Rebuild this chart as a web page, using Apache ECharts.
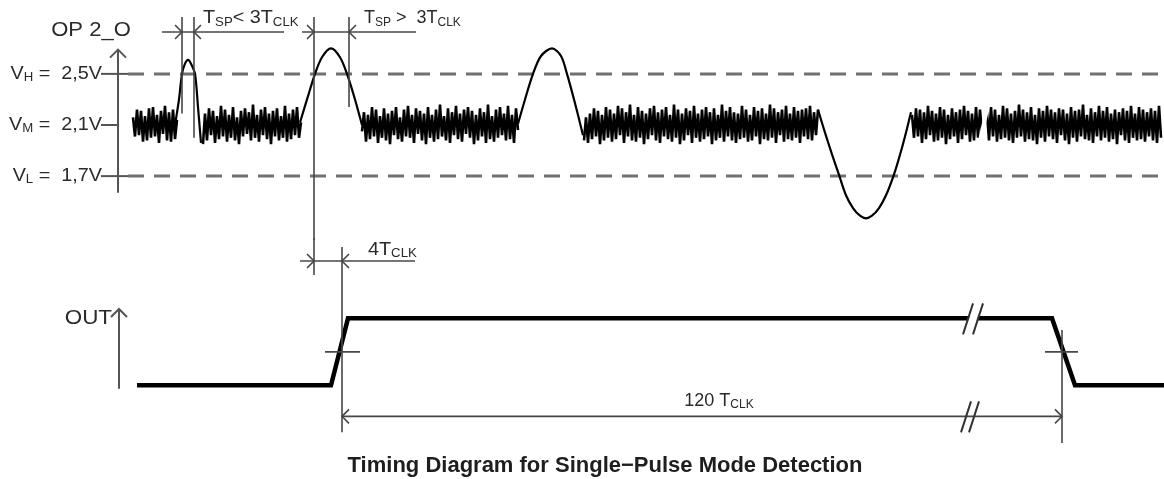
<!DOCTYPE html>
<html>
<head>
<meta charset="utf-8">
<script src="https://cdn.jsdelivr.net/npm/echarts@6/dist/echarts.min.js"></script>
<style>
  html, body { margin: 0; padding: 0; background: #fff; }
  #chart { width: 1164px; height: 479px; }
</style>
</head>
<body>
<div id="chart"></div>
<script>
// OP 2_O levels (V)
const levelNames = ['H', 'M', 'L']
const levelValues = [2.5, 2.1, 1.7]
const levelLabels = ['2,5V', '2,1V', '1,7V']
const vMid = 2.1

// noise around V_M, in 0.01 V, one sample every 2 time units
const noiseStep = 2
const noiseStarts = [133, 203, 362, 584, 912, 987]
const noise1 = [6,-9,12,-8,11,-13,7,-12,13,-10,14,-9,8,-14,11,-7,15,-12,10,-13,12,-11,4]
const noise2 = [-15,9,-12,13,-8,11,-14,7,-11,15,-9,12,-13,8,-10,14,-12,6,-15,11,-9,13,-7,10,-12,16,-10,8,-13,12,
  -8,14,-11,9,-15,11,-9,13,-12,7,-10,15,-13,9,-11,12,-8,14,-10,2]
const noise3 = [-5,10,-13,8,-11,14,-9,12,-14,7,-10,13,-12,9,-15,11,-8,14,-11,6,-13,12,-9,15,-10,8,-14,13,-7,11,
  -12,9,-15,14,-10,8,-13,12,-11,16,-9,7,-12,13,-14,10,-8,15,-11,9,-13,12,-7,14,-10,11,-15,8,-12,13,
  -9,10,-14,16,-11,7,-13,12,-10,14,-8,9,-12,15,-11,8,-14,13,-4]
const noise4 = [-12,6,-14,9,-11,13,-9,11,-15,8,-12,14,-10,12,-13,9,-11,15,-8,13,-14,10,-9,16,-12,8,-13,14,-10,11,
  -15,9,-11,13,-8,15,-12,10,-14,12,-9,14,-11,8,-13,16,-10,12,-15,9,-12,13,-8,11,-14,15,-10,9,-13,12,
  -11,14,-9,10,-15,13,-12,8,-10,16,-13,11,-9,14,-12,10,-14,9,-11,15,-10,12,-13,8,-12,14,-9,11,-15,13,
  -11,9,-12,16,-10,13,-14,10,-8,12,-13,15,-11,9,-12,14,-10,11,-14,12,-9,13,-11,15,-12,10,-8,12]
const noise5 = [8,-10,13,-9,12,-14,10,-11,15,-8,11,-13,9,-12,14,-10,12,-15,8,-11,13,-9,10,-14,12,-11,15,-8,11,-13,
  9,-12,14,-10,12,-7]
const noise6 = [10,-12,14,-9,12,-13,8,-11,15,-10,13,-12,9,-14,11,-10,16,-9,12,-13,10,-11,14,-12,8,-15,13,-10,11,-13,
  15,-9,12,-11,10,-14,13,-8,12,-12,9,-15,14,-10,11,-13,12,-9,16,-11,8,-12,13,-14,10,-9,15,-12,11,-10,
  14,-13,9,-11,12,-15,10,-8,13,-12,11,-14,15,-10,9,-12,14,-11,12,-13,10,-9,13,-12,11,-14,15,-10]

// pulses [time, V]
const pulse1 = [[175,2.1],[179,2.3],[182,2.5],[185,2.58],[188,2.61],[191,2.58],[195,2.5],[198,2.24],[201,1.96]]
const pulse2 = [[300,2.12],[307,2.3],[315,2.5],[322,2.63],[331,2.7],[340,2.63],[347,2.5],[355,2.3],[362,2.1]]
const pulse3 = [[518,2.11],[525,2.3],[533,2.5],[541,2.64],[552,2.7],[561,2.64],[567,2.5],[575,2.27],[583,2.02]]
const dip = [[818,2.22],[825,2.04],[832,1.87],[839,1.71],[846,1.55],[853,1.45],[860,1.39],[866,1.37],[872,1.39],
  [879,1.45],[886,1.55],[893,1.69],[899,1.84],[905,2.01],[911,2.2]]

// OUT
const outTimes = [137, 331, 348, 1052, 1075, 1164]
const outLevels = [0, 0, 1, 1, 0, 0]

// timing marks
const tspShort = [182, 194]
const tspLong = [314, 349]
const tDetect = 342
const tRelease = 1062

const FONT = 'Liberation Sans, Arial, sans-serif'
const INK = '#2a2a2a'
const DIM = '#474747'

const chart = echarts.init(document.getElementById('chart'))

const series = []
// V_H / V_L dashed
;[0, 2].forEach(i => {
  series.push({
    type: 'line', xAxisIndex: 0, yAxisIndex: 0, z: 1,
    data: [[128, levelValues[i]], [1164, levelValues[i]]],
    symbol: 'none',
    lineStyle: { color: '#707070', width: 3, type: [16, 10] }
  })
})
// noise
;[noise1, noise2, noise3, noise4, noise5, noise6].forEach((set, k) => {
  series.push({
    type: 'line', xAxisIndex: 0, yAxisIndex: 0,
    data: set.map((d, i) => [noiseStarts[k] + i * noiseStep, vMid + d / 100]),
    symbol: 'none',
    lineStyle: { color: '#000', width: 2.6 }
  })
})
// pulses
;[pulse1, pulse2, pulse3, dip].forEach(p => {
  series.push({
    type: 'line', xAxisIndex: 0, yAxisIndex: 0,
    data: p, symbol: 'none', smooth: 0.3,
    lineStyle: { color: '#000', width: 2.2 }
  })
})
// OUT
series.push({
  type: 'line', xAxisIndex: 1, yAxisIndex: 1,
  data: outTimes.map((t, i) => [t, outLevels[i]]),
  symbol: 'none',
  lineStyle: { color: '#000', width: 4.5, join: 'miter' }
})

chart.setOption({
  animation: false,
  backgroundColor: '#fff',
  title: {
    text: 'Timing Diagram for Single\u2212Pulse Mode Detection',
    left: 600, top: 450, textAlign: 'center',
    textStyle: { fontFamily: FONT, fontSize: 22, fontWeight: 'bold', color: '#1e1e1e' }
  },
  grid: [
    { left: 0, right: 0, top: 10, height: 230 },
    { left: 0, right: 0, top: 238, height: 221 }
  ],
  xAxis: [
    { type: 'value', gridIndex: 0, min: 0, max: 1164, show: false },
    { type: 'value', gridIndex: 1, min: 0, max: 1164, show: false }
  ],
  yAxis: [
    { type: 'value', gridIndex: 0, min: 1.2, max: 3.0, show: false },
    { type: 'value', gridIndex: 1, min: -1.1, max: 2.2, show: false }
  ],
  series
})

/* annotations, placed through the axes */
const p0 = (t, v) => chart.convertToPixel({ gridIndex: 0 }, [t, v])
const p1 = (t, v) => chart.convertToPixel({ gridIndex: 1 }, [t, v])
const g = []
const seg = (a, b, w = 1.6, c = DIM) => g.push({
  type: 'line', z: 100, silent: true,
  shape: { x1: a[0], y1: a[1], x2: b[0], y2: b[1] },
  style: { stroke: c, lineWidth: w }
})
const head = (pt, dir, s = 7) => g.push({
  type: 'polyline', z: 100, silent: true,
  shape: { points: [[pt[0] - dir * s, pt[1] - s], pt, [pt[0] - dir * s, pt[1] + s]] },
  style: { stroke: DIM, lineWidth: 1.6, fill: null }
})
const upHead = (pt, s = 8) => g.push({
  type: 'polyline', z: 100, silent: true,
  shape: { points: [[pt[0] - s, pt[1] + s], pt, [pt[0] + s, pt[1] + s]] },
  style: { stroke: '#555', lineWidth: 2, fill: null }
})
const rich = {
  m: { fontSize: 18, lineHeight: 20, fontFamily: FONT, fill: INK },
  s: { fontSize: 12, lineHeight: 8, verticalAlign: 'bottom', fontFamily: FONT, fill: INK }
}
const label = (pt, text, align, size = 18, sx = 1) => g.push({
  type: 'text', z: 100, silent: true, x: pt[0], y: pt[1], scaleX: sx,
  style: { text, align, verticalAlign: 'middle', fill: INK, fontFamily: FONT, fontSize: size, rich }
})
const breakMark = (c, gap, w) => {
  g.push({ type: 'line', z: 99, silent: true,
    shape: { x1: c[0] - 5, y1: c[1] + 16, x2: c[0] + 5, y2: c[1] - 15 },
    style: { stroke: '#fff', lineWidth: w } })
  seg([c[0] - gap - 5, c[1] + 16], [c[0] - gap + 5, c[1] - 15], 2, '#333')
  seg([c[0] + gap - 5, c[1] + 16], [c[0] + gap + 5, c[1] - 15], 2, '#333')
}

// OP 2_O axis
seg(p0(118, 2.69), p0(118, 1.57), 2, '#555')
upHead(p0(118, 2.69))
label(p0(91, 2.836), 'OP 2_O', 'center', 20, 1.1)
levelValues.forEach((v, i) => {
  label(p0(102, v), '{m|V}{s|' + levelNames[i] + '}{m| =  ' + levelLabels[i] + '}', 'right', 18, 1.1)
  seg(p0(101, v), p0(i === 1 ? 118 : 128, v), 2, '#555')
})

// T_SP < 3T_CLK
seg(p0(162, 2.828), p0(284, 2.828))
seg(p0(tspShort[0], 2.945), p0(tspShort[0], 2.19))
seg(p0(tspShort[1], 2.945), p0(tspShort[1], 2.0))
head(p0(tspShort[0], 2.828), 1)
head(p0(tspShort[1], 2.828), -1)
label(p0(203, 2.935), '{m|T}{s|SP}{m|< 3T}{s|CLK}', 'left', 18, 1.1)

// T_SP > 3T_CLK
seg(p0(302, 2.828), p0(416, 2.828))
seg(p0(tspLong[0], 2.945), p0(tspLong[0], 1.2))
seg(p1(tspLong[0], 2.2), p1(tspLong[0], 1.647))
seg(p0(tspLong[1], 2.945), p0(tspLong[1], 2.24))
head(p0(tspLong[0], 2.828), 1)
head(p0(tspLong[1], 2.828), -1)
label(p0(364, 2.935), '{m|T}{s|SP}{m| >  3T}{s|CLK}', 'left')

// noise break
g.push({ type: 'line', z: 99, silent: true,
  shape: (() => { const a = p0(978, 1.9), b = p0(990, 2.33); return { x1: a[0], y1: a[1], x2: b[0], y2: b[1] } })(),
  style: { stroke: '#fff', lineWidth: 4 } })

// 4T_CLK
seg(p1(300, 1.856), p1(415, 1.856))
seg(p1(tDetect, 2.065), p1(tDetect, -0.70))
head(p1(tspLong[0], 1.856), 1)
head(p1(tDetect, 1.856), -1)
label(p1(368, 2.02), '{m|4T}{s|CLK}', 'left', 18, 1.1)

// OUT axis
seg(p1(119, 1.14), p1(119, -0.05), 2, '#555')
upHead(p1(119, 1.14))
label(p1(112, 1.0), 'OUT', 'right', 20, 1.12)

// transition marks
seg(p1(325, 0.5), p1(360, 0.5))
seg(p1(1045, 0.5), p1(1078, 0.5))
seg(p1(tRelease, 0.826), p1(tRelease, -0.862))

// 120 T_CLK
seg(p1(tDetect, -0.463), p1(tRelease, -0.463))
head(p1(tDetect, -0.463), -1)
head(p1(tRelease, -0.463), 1)
label(p1(719, -0.234), '{m|120 T}{s|CLK}', 'center')

// // breaks
breakMark(p1(973, 1), 5, 8)
breakMark(p1(970, -0.463), 4, 7)

chart.setOption({ graphic: g })
</script>
</body>
</html>
